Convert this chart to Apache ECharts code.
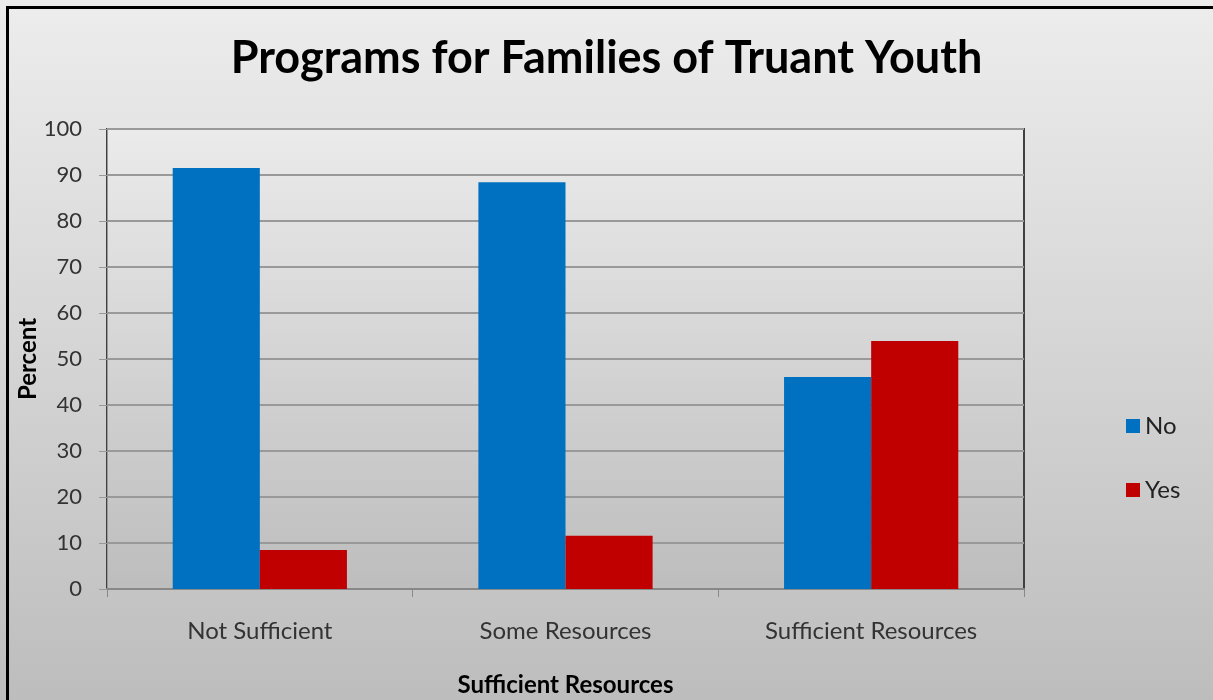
<!DOCTYPE html>
<html>
<head>
<meta charset="utf-8">
<script src="https://cdn.jsdelivr.net/npm/echarts@6/dist/echarts.min.js"></script>
<style>
html,body{margin:0;padding:0;background:#fff;}
#chart{width:1213px;height:700px;}
</style>
</head>
<body>
<div id="chart"></div>
<script>
const categories = ['Not Sufficient', 'Some Resources', 'Sufficient Resources'];
const seriesNames = ['No', 'Yes'];
const noValues = [91.5, 88.4, 46.1];
const yesValues = [8.5, 11.6, 53.9];
const yTicks = { min: 0, max: 100, interval: 10 };

const chart = echarts.init(document.getElementById('chart'));
const font = 'Lato, "Open Sans", sans-serif';
chart.setOption({
  backgroundColor: new echarts.graphic.LinearGradient(0, 0, 0, 1, [
    { offset: 0, color: '#ededed' },
    { offset: 1, color: '#bdbdbd' }
  ]),
  animation: false,
  graphic: [
    { type: 'rect', left: 5, top: 5, shape: { width: 1300, height: 800 }, style: { fill: 'none', stroke: '#000', lineWidth: 3 }, z: 100 }
  ],
  title: {
    text: 'Programs for Families of Truant Youth',
    left: 'center',
    top: 31,
    textStyle: { fontFamily: font, fontWeight: 'bold', fontSize: 45, color: '#000' }
  },
  legend: {
    orient: 'vertical',
    left: 1121,
    top: 409,
    itemWidth: 14,
    itemHeight: 14,
    itemGap: 40,
    icon: 'rect',
    textStyle: { fontFamily: font, fontSize: 24, color: '#222' },
    data: seriesNames
  },
  grid: {
    left: 107, right: 189, top: 129, bottom: 111,
    outerBoundsMode: 'none',
    containLabel: false,
    show: true,
    borderColor: '#404040',
    borderWidth: 2,
    backgroundColor: new echarts.graphic.LinearGradient(0, 0, 0, 1, [
      { offset: 0, color: '#ebebeb' },
      { offset: 1, color: '#bdbdbd' }
    ])
  },
  xAxis: {
    type: 'category',
    data: categories,
    name: 'Sufficient Resources',
    nameLocation: 'middle',
    nameGap: 84,
    nameMoveOverlap: false,
    nameTextStyle: { fontFamily: font, fontWeight: 'bold', fontSize: 24, color: '#000' },
    axisLine: { lineStyle: { color: '#888', width: 2 } },
    axisTick: { show: true, length: 8, lineStyle: { color: '#888' } },
    axisLabel: { fontFamily: font, fontSize: 24, color: '#333', margin: 30 }
  },
  yAxis: {
    type: 'value',
    min: yTicks.min, max: yTicks.max, interval: yTicks.interval,
    name: 'Percent',
    nameLocation: 'middle',
    nameGap: 67,
    nameMoveOverlap: false,
    nameTextStyle: { fontFamily: font, fontWeight: 'bold', fontSize: 24, color: '#000' },
    axisLine: { show: true, lineStyle: { color: '#999', width: 1 } },
    axisTick: { show: true, length: 8, lineStyle: { color: '#999' } },
    axisLabel: { fontFamily: font, fontSize: 22, color: '#333', margin: 25 },
    splitLine: { lineStyle: { color: '#999', width: 2 } }
  },
  series: [
    { name: 'No', type: 'bar', data: noValues, barGap: '0%', barCategoryGap: '43%', itemStyle: { color: '#0070c0' } },
    { name: 'Yes', type: 'bar', data: yesValues, itemStyle: { color: '#c00000' } }
  ]
});
</script>
</body>
</html>
